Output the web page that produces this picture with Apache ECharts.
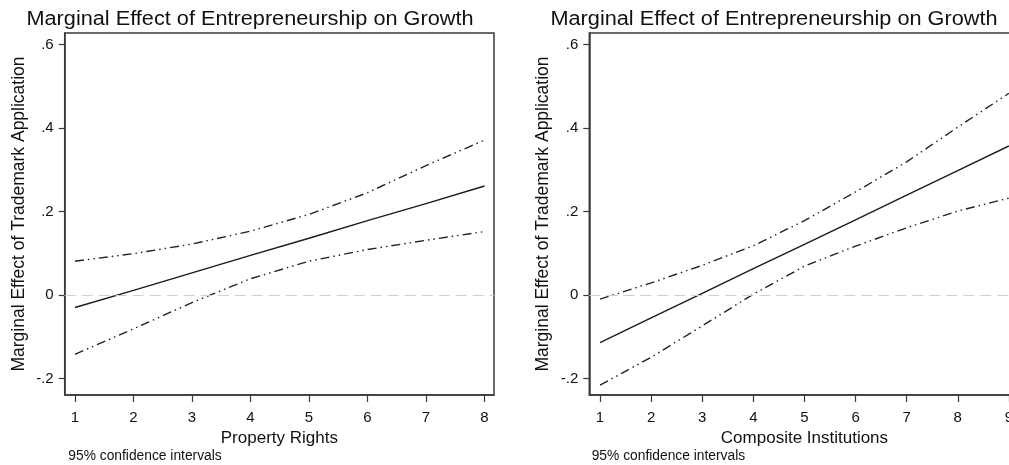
<!DOCTYPE html>
<html>
<head>
<meta charset="utf-8">
<script src="https://cdn.jsdelivr.net/npm/echarts@6/dist/echarts.min.js"></script>
<style>
html,body{margin:0;padding:0;background:#fff;}
#chart{width:1009px;height:465px;}
</style>
</head>
<body>
<div id="chart"></div>
<script>
// ---- data ----
const chartTitle = 'Marginal Effect of Entrepreneurship on Growth';
const yTitle = 'Marginal Effect of Trademark Application';
const noteText = '95% confidence intervals';

const propXName = 'Property Rights';
const propX = [1, 2, 3, 4, 5, 6, 7, 8];
const propEffect = [-0.030, 0.011, 0.053, 0.095, 0.136, 0.178, 0.219, 0.261];
const propUpper  = [0.081, 0.099, 0.122, 0.153, 0.193, 0.245, 0.310, 0.371];
const propLower  = [-0.142, -0.081, -0.018, 0.039, 0.081, 0.109, 0.131, 0.152];

const compXName = 'Composite Institutions';
const compX = [1, 2, 3, 4, 5, 6, 7, 8, 9];
const compEffect = [-0.114, -0.055, 0.004, 0.063, 0.121, 0.180, 0.239, 0.298, 0.357];
const compUpper  = [-0.010, 0.029, 0.071, 0.118, 0.178, 0.247, 0.319, 0.402, 0.483];
const compLower  = [-0.216, -0.149, -0.074, 0.002, 0.069, 0.117, 0.161, 0.201, 0.232];

const yTicks = [-0.2, 0, 0.2, 0.4, 0.6];
const propXTicks = [1, 2, 3, 4, 5, 6, 7, 8];
const compXTicks = [1, 2, 3, 4, 5, 6, 7, 8, 9];

// ---- styling ----
const FONT = '"Liberation Sans", Arial, Helvetica, sans-serif';
const FRAME = '#3a3a3a';
const CI_DASH = [9, 4, 1.5, 4, 1.5, 4];

function pairs(xs, ys) { return xs.map((x, i) => [x, ys[i]]); }
function fmtY(v) {
  const r = Math.round(v * 10) / 10;
  if (r === 0) return '0';
  return String(r).replace('0.', '.');
}

function xAxisFor(gridIndex, min, max, ticks, name) {
  return {
    type: 'value', gridIndex, min, max, name,
    nameLocation: 'middle', nameGap: 28,
    nameTextStyle: { fontFamily: FONT, fontSize: 17, color: '#111' },
    axisLine: { show: true, onZero: false, lineStyle: { color: FRAME, width: 1.5 } },
    axisTick: { show: true, length: 7, inside: false, customValues: ticks,
                lineStyle: { color: FRAME, width: 1.2 } },
    axisLabel: { customValues: ticks, fontFamily: FONT, fontSize: 15, color: '#111', margin: 15 },
    splitLine: { show: false }
  };
}
function yAxisFor(gridIndex, min, max) {
  return {
    type: 'value', gridIndex, min, max, name: yTitle,
    nameLocation: 'middle', nameRotate: 90, nameGap: 37,
    nameTextStyle: { fontFamily: FONT, fontSize: 17.5, color: '#111' },
    axisLine: { show: true, onZero: false, lineStyle: { color: FRAME, width: 1.5 } },
    axisTick: { show: true, length: 6, customValues: yTicks,
                lineStyle: { color: FRAME, width: 1.2 } },
    axisLabel: { customValues: yTicks, fontFamily: FONT, fontSize: 15, color: '#111', margin: 11,
                 formatter: fmtY },
    splitLine: { show: false }
  };
}
function ciSeries(idx, data) {
  return {
    type: 'line', xAxisIndex: idx, yAxisIndex: idx, data, symbol: 'none',
    silent: true, animation: false,
    lineStyle: { color: '#222', width: 1.4, type: CI_DASH }
  };
}
function effSeries(idx, data) {
  return {
    type: 'line', xAxisIndex: idx, yAxisIndex: idx, data, symbol: 'none',
    silent: true, animation: false, z: 3,
    lineStyle: { color: '#1a1a1a', width: 1.4 },
    markLine: {
      silent: true, symbol: 'none', animation: false,
      label: { show: false },
      lineStyle: { color: '#cfcfcf', width: 1.2, type: [11, 6] },
      data: [{ yAxis: 0 }]
    }
  };
}

const yMin = -0.2395, yMax = 0.6275;

const option = {
  backgroundColor: '#fff',
  animation: false,
  grid: [
    { left: 64.7, top: 33, width: 429.3, height: 362, show: true, containLabel: false,
      outerBoundsMode: 'none',
      borderColor: FRAME, borderWidth: 1.5, backgroundColor: '#fff' },
    { left: 589.3, top: 33, width: 430.3, height: 362, show: true, containLabel: false,
      outerBoundsMode: 'none',
      borderColor: FRAME, borderWidth: 1.5, backgroundColor: '#fff' }
  ],
  xAxis: [
    xAxisFor(0, 0.824, 8.162, propXTicks, propXName),
    xAxisFor(1, 0.79, 9.21, compXTicks, compXName)
  ],
  yAxis: [
    yAxisFor(0, yMin, yMax),
    yAxisFor(1, yMin, yMax)
  ],
  series: [
    ciSeries(0, pairs(propX, propUpper)),
    ciSeries(0, pairs(propX, propLower)),
    effSeries(0, pairs(propX, propEffect)),
    ciSeries(1, pairs(compX, compUpper)),
    ciSeries(1, pairs(compX, compLower)),
    effSeries(1, pairs(compX, compEffect))
  ],
  graphic: [
    { type: 'text', x: 250, y: 19.5, scaleX: 1.085, silent: true,
      style: { text: chartTitle, font: '20px ' + FONT, fill: '#111', align: 'center', verticalAlign: 'middle' } },
    { type: 'text', x: 774, y: 19.5, scaleX: 1.085, silent: true,
      style: { text: chartTitle, font: '20px ' + FONT, fill: '#111', align: 'center', verticalAlign: 'middle' } },
    { type: 'text', x: 68.3, y: 456.5, silent: true,
      style: { text: noteText, font: '13.8px ' + FONT, fill: '#111', align: 'left', verticalAlign: 'middle' } },
    { type: 'text', x: 591.7, y: 456.5, silent: true,
      style: { text: noteText, font: '13.8px ' + FONT, fill: '#111', align: 'left', verticalAlign: 'middle' } }
  ]
};

const chart = echarts.init(document.getElementById('chart'), null, { renderer: 'canvas' });
chart.setOption(option);
</script>
</body>
</html>
